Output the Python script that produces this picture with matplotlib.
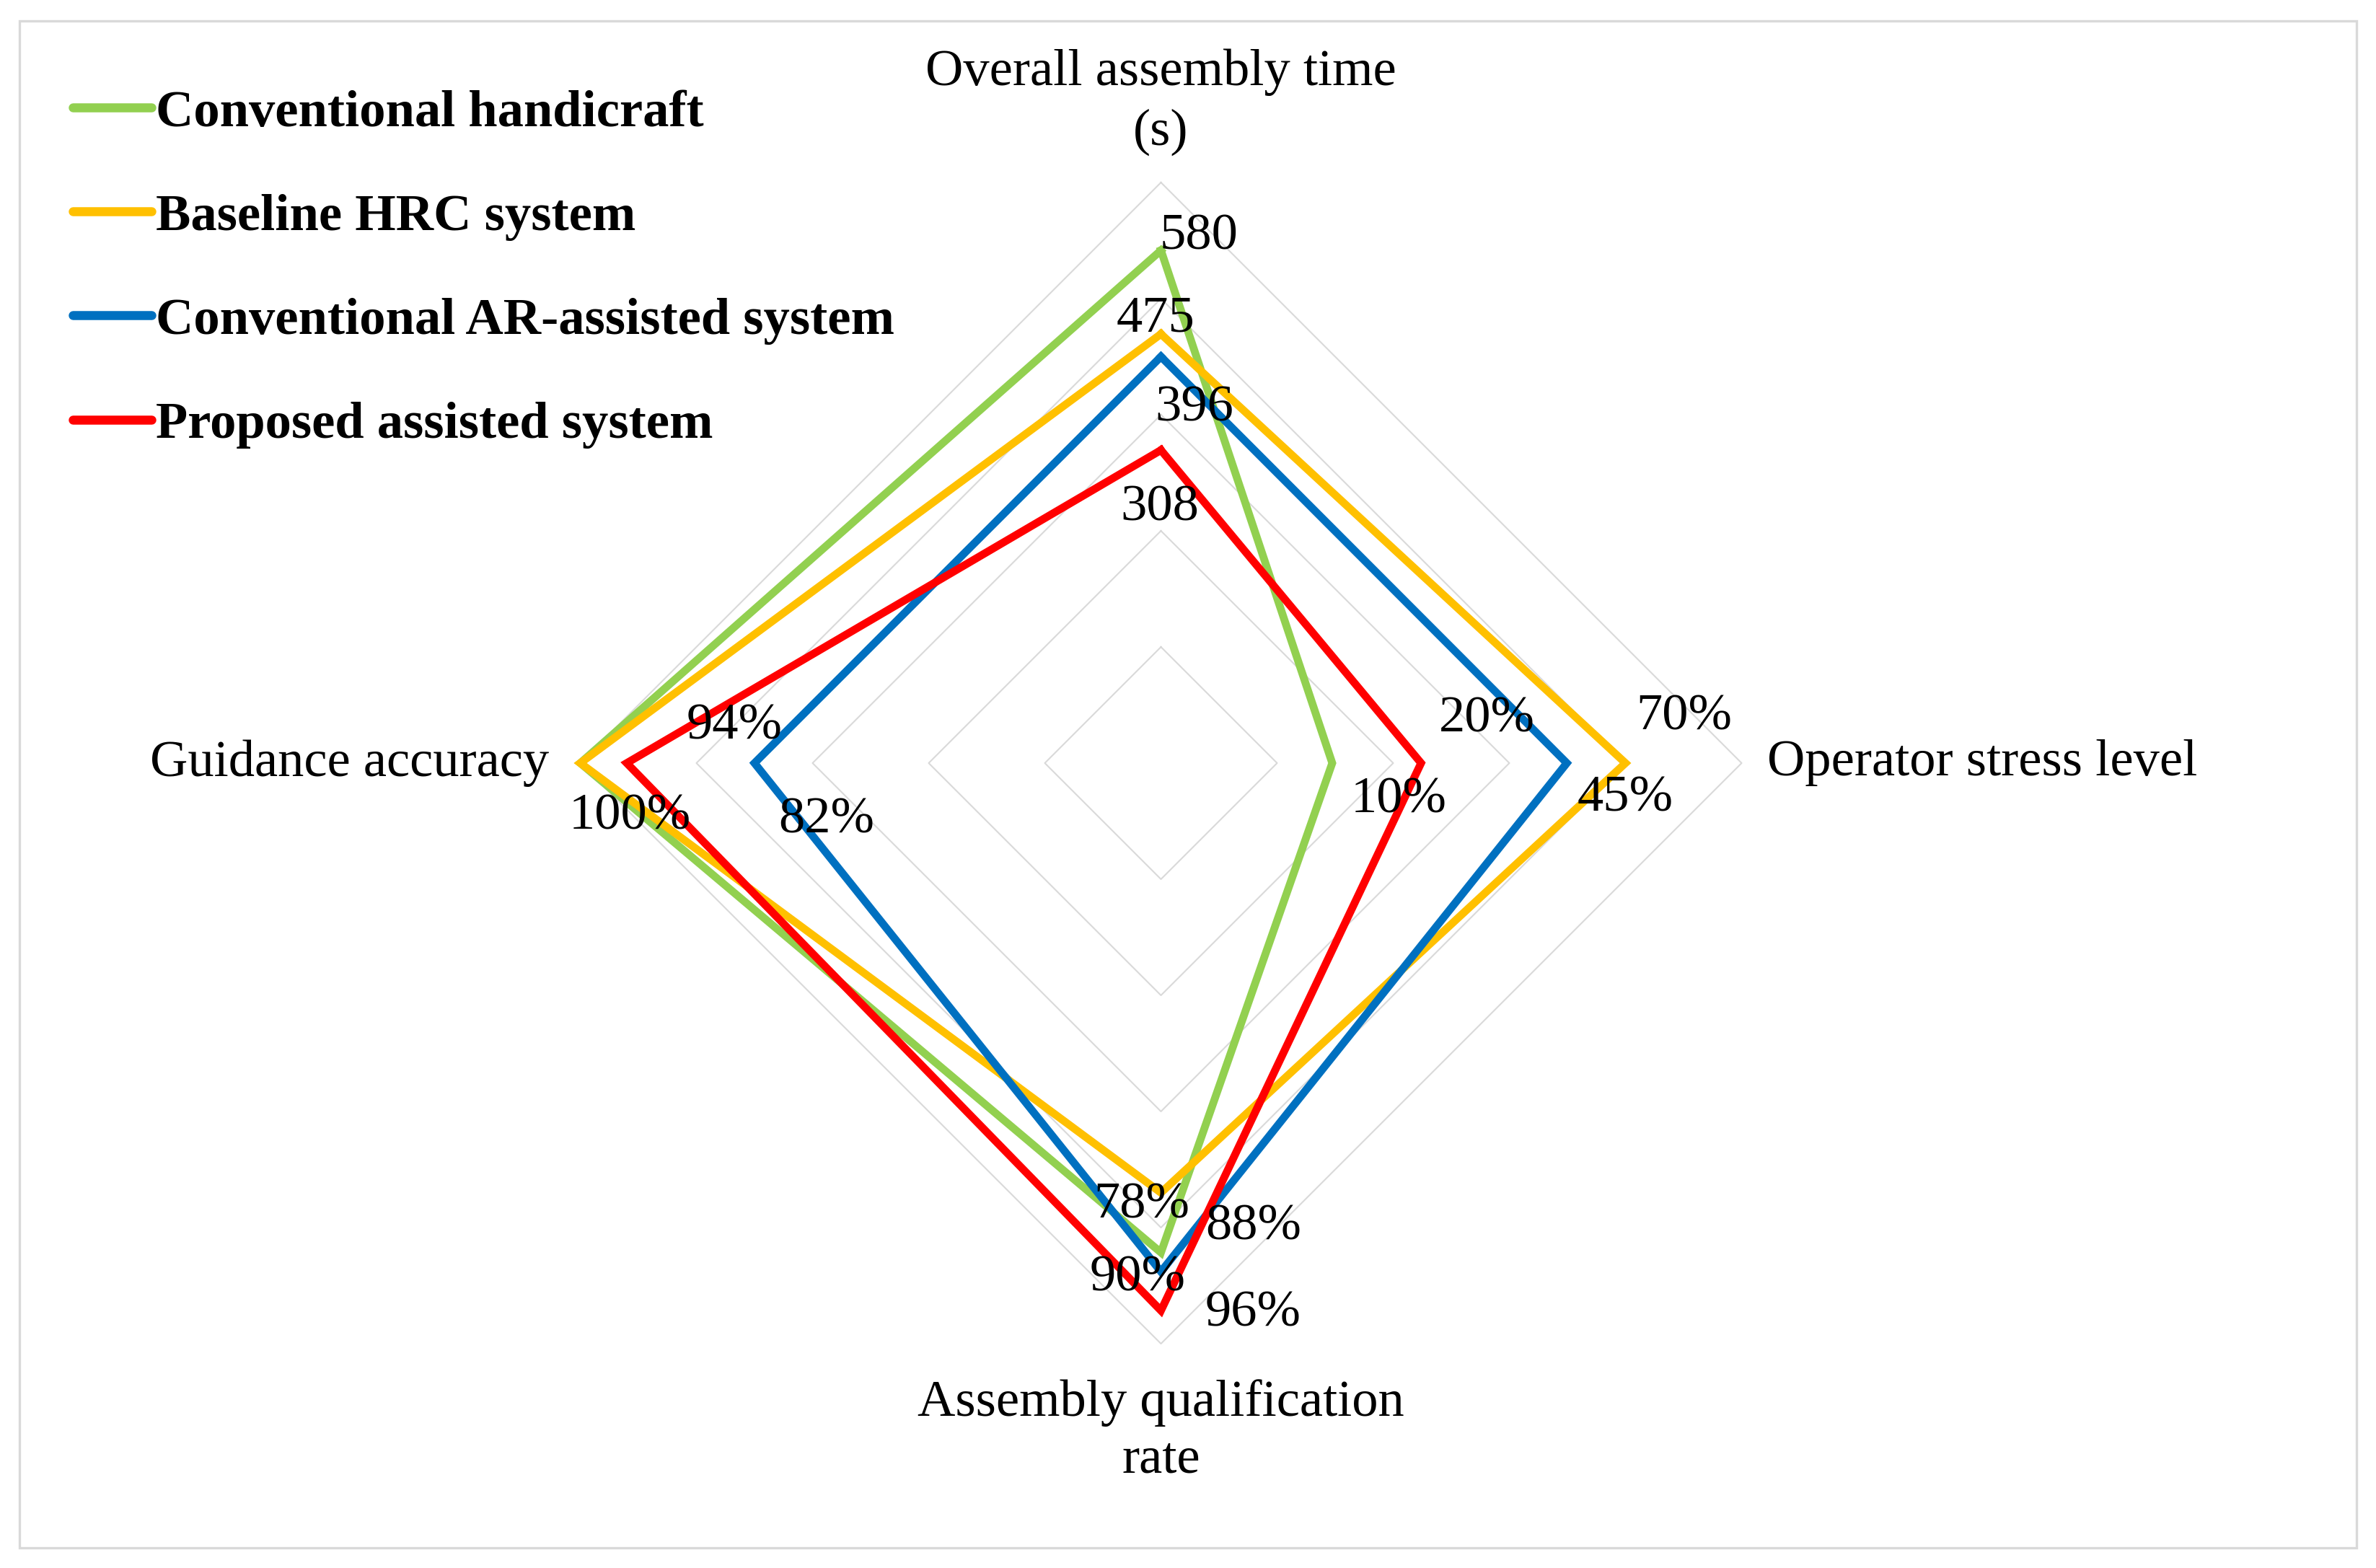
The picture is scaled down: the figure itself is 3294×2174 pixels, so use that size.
from __future__ import annotations

import matplotlib

matplotlib.use("Agg")

import matplotlib.pyplot as plt
import numpy as np
from matplotlib.lines import Line2D
from matplotlib.patches import Rectangle

# Axes of the radar, clockwise from the top
categories = [
    "Overall assembly time\n(s)",
    "Operator stress level",
    "Assembly qualification\nrate",
    "Guidance accuracy",
]

series_names = [
    "Conventional handicraft",
    "Baseline HRC system",
    "Conventional AR-assisted system",
    "Proposed assisted system",
]

# Plotted (normalised) score on each axis, 1.0 = outer ring
handicraft_score = [0.883, 0.295, 0.843, 1.00]
baseline_score = [0.739, 0.800, 0.740, 1.00]
ar_score = [0.700, 0.699, 0.876, 0.70]
proposed_score = [0.539, 0.448, 0.943, 0.92]

# Data labels shown next to each vertex
handicraft_labels = ["580", "70%", "90%", "100%"]
baseline_labels = ["475", "45%", "78%", "100%"]
ar_labels = ["396", "20%", "88%", "82%"]
proposed_labels = ["308", "10%", "96%", "94%"]

ring_levels = [0.2, 0.4, 0.6, 0.8, 1.0]

COLORS = ["#92D050", "#FFC000", "#0070C0", "#FF0000"]
GRID = "#D9D9D9"
FONT = "Liberation Serif"
FS = 17.4

# label offsets from the vertex, in pixels (dx right, dy down); None = shared label not drawn
LABEL_OFFSETS = [
    [(52, -19), (488, -64), (-32, 35), (69, 74)],
    [(-7, -21), (0, 49), (-27, 17), None],
    [(46, 72), (-111, -61), (128, -62), (100, 79)],
    [(-2, 80), (-31, 51), (128, 4), (149, -51)],
]


def main() -> int:
    plt.rcParams["font.family"] = [FONT, "DejaVu Serif"]

    W, H = 3294, 2174
    fig = plt.figure(figsize=(W / 300, H / 300), dpi=300)

    # radar centre and radius in pixels
    cx, cy, rad = 1609.5, 1058.0, 805.0
    ax = fig.add_axes(
        [(cx - rad) / W, (H - cy - rad) / H, 2 * rad / W, 2 * rad / H],
        projection="polar",
    )
    ax.set_theta_offset(np.pi / 2)
    ax.set_theta_direction(-1)
    ax.set_ylim(0, 1)
    ax.grid(False)
    ax.set_xticks([])
    ax.set_yticks([])
    ax.spines["polar"].set_visible(False)
    ax.patch.set_visible(False)

    n = len(categories)
    angles = np.linspace(0, 2 * np.pi, n, endpoint=False)
    closed = np.append(angles, angles[0])

    for lev in ring_levels:
        ax.plot(closed, [lev] * (n + 1), color=GRID, lw=0.5, clip_on=False, zorder=1)

    scores = [handicraft_score, baseline_score, ar_score, proposed_score]
    labels = [handicraft_labels, baseline_labels, ar_labels, proposed_labels]

    handles = []
    for i, (name, vals) in enumerate(zip(series_names, scores)):
        vals_closed = list(vals) + [vals[0]]
        ax.plot(
            closed, vals_closed, color=COLORS[i], lw=2.6,
            solid_joinstyle="miter", clip_on=False, zorder=3 + i,
        )
        handles.append(Line2D([], [], color=COLORS[i], lw=3.0, solid_capstyle="round"))

    for i, vals in enumerate(scores):
        for j, (ang, v) in enumerate(zip(angles, vals)):
            off = LABEL_OFFSETS[i][j]
            if off is None:
                continue
            ax.annotate(
                labels[i][j], xy=(ang, v), xytext=(off[0], -off[1]),
                textcoords="offset pixels", ha="center", va="center",
                fontsize=FS, color="black", zorder=10, annotation_clip=False,
            )

    # category labels outside the outer ring: (dx, dy, ha, linespacing)
    cat_offsets = [
        (0, -111, "center", 1.35),
        (35, 0, "left", 1.2),
        (0, 121, "center", 1.27),
        (-43, 0, "right", 1.2),
    ]
    for ang, cat, (dx, dy, ha, ls) in zip(angles, categories, cat_offsets):
        ax.annotate(
            cat, xy=(ang, 1.0), xytext=(dx, -dy), textcoords="offset pixels",
            ha=ha, va="center", fontsize=FS, multialignment="center",
            linespacing=ls, annotation_clip=False,
        )

    fig.legend(
        handles, series_names, loc="upper left",
        bbox_to_anchor=(101 / W, 1 - 124 / H), frameon=False,
        prop={"family": FONT, "weight": "bold", "size": FS},
        handlelength=1.5, handletextpad=0.08, labelspacing=1.08,
        borderpad=0, borderaxespad=0,
    )

    # thin grey border around the whole chart
    fig.add_artist(Rectangle(
        (27 / W, 1 - 2146 / H), (3267 - 27) / W, (2146 - 29) / H,
        transform=fig.transFigure, fill=False, edgecolor=GRID, lw=0.8,
    ))

    fig.savefig("out.png", dpi=300, facecolor="white")
    return 0


if __name__ == "__main__":
    raise SystemExit(main())
